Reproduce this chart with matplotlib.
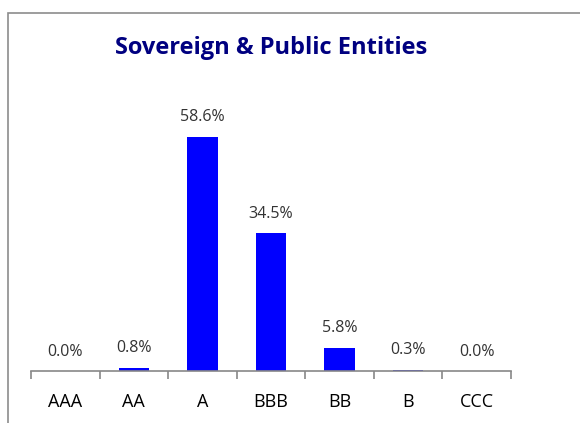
import matplotlib
matplotlib.use("Agg")
import matplotlib.pyplot as plt
import matplotlib.patches as patches
import numpy as np

ratings = ["AAA", "AA", "A", "BBB", "BB", "B", "CCC"]
shares = [0.0, 0.8, 58.6, 34.5, 5.8, 0.3, 0.0]

plt.rcParams['font.family'] = ['Open Sans', 'DejaVu Sans']

fig = plt.figure(figsize=(5.8, 4.23), dpi=100)
W, H = 580, 423

# chart border (only top/left visible in the crop)
fig.patches.append(patches.Rectangle((8 / W, -0.5), 2, 1.5 - 13 / H,
                                     transform=fig.transFigure, fill=False,
                                     ec='#8c8c8c', lw=1.2))

ax = fig.add_axes([31 / W, 52 / H, 480 / W, 280 / H])
x = np.arange(len(ratings))
ax.bar(x, shares, width=0.44, color='#0000ff')

for xi, v in zip(x, shares):
    ax.annotate(f"{v:.1f}%", (xi, v), xytext=(0, 14), textcoords='offset points',
                ha='center', va='center', fontsize=11.5, color='#333333')

ax.set_xlim(-0.5, len(ratings) - 0.5)
ax.set_ylim(0, 70)
ax.set_yticks([])
for s in ['left', 'right', 'top']:
    ax.spines[s].set_visible(False)
ax.spines['bottom'].set_color('#888888')
ax.spines['bottom'].set_linewidth(1.2)

ax.set_xticks(x)
ax.set_xticklabels(ratings, fontsize=13)
ax.tick_params(axis='x', which='major', length=0, pad=16)
ax.set_xticks(np.arange(-0.5, len(ratings)), minor=True)
ax.tick_params(axis='x', which='minor', length=6, color='#888888', width=1.2)

ax.set_title("Sovereign & Public Entities", fontsize=17, fontweight='bold',
             color='#000080', y=1 + (91 - 48) / 280, va='center', pad=0)

fig.savefig("out.png", dpi=100)
